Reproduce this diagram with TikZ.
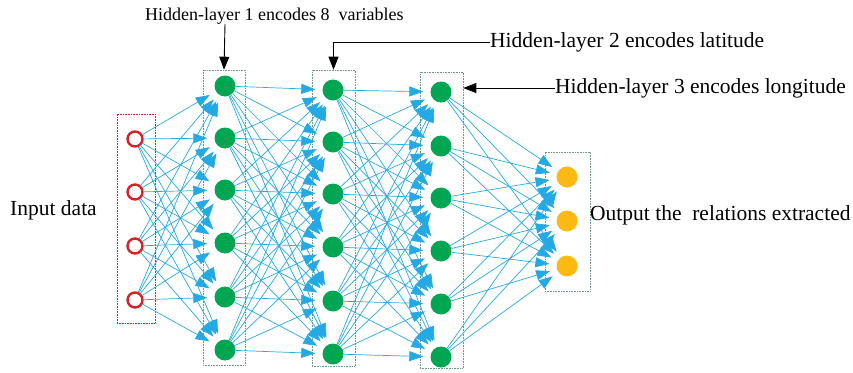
\documentclass[tikz,border=0pt]{standalone}
\usepackage{fontspec}
\setmainfont{Liberation Serif}
\usetikzlibrary{arrows.meta,fit}
\definecolor{linkblue}{RGB}{35,170,228}
\definecolor{nodegreen}{RGB}{0,166,81}
\definecolor{outorange}{RGB}{253,185,19}
\definecolor{inred}{RGB}{215,35,40}
\definecolor{boxgray}{RGB}{110,150,140}
\tikzset{
  unit/.style={circle,fill=nodegreen,inner sep=0pt,minimum size=21pt},
  inunit/.style={circle,draw=inred,line width=2.4pt,inner sep=0pt,minimum size=15pt},
  outunit/.style={circle,fill=outorange,inner sep=0pt,minimum size=21pt},
  link/.style={linkblue,line width=0.7pt,shorten >=7pt,-{Triangle[length=14pt,width=10pt]}},
  layerbox/.style={draw=boxgray,densely dotted,line width=0.6pt,inner sep=0pt},
  pointer/.style={black,line width=0.9pt,-{Triangle[length=13pt,width=10pt]}},
  caption/.style={font=\fontsize{21.5}{25}\selectfont,inner sep=0pt}
}
\begin{document}
\begin{tikzpicture}[x=1pt,y=-1pt]
\useasboundingbox (0,0) rectangle (853,372);

% layer boxes
\node[layerbox,draw=inred,fit={(117,114) (155,323)}] (boxin) {};
\node[layerbox,fit={(203,70) (245,365)}] (boxa) {};
\node[layerbox,fit={(312,70) (355,366)}] (boxb) {};
\node[layerbox,fit={(420,72) (463,368)}] (boxc) {};
\node[layerbox,fit={(545,152) (590,291)}] (boxout) {};

% units
\foreach \y [count=\i] in {139,192,246,300}
  \node[inunit] (in\i) at (135,\y) {};
\foreach \y [count=\i] in {86,138,190,243,297,350}
  \node[unit] (ha\i) at (225,\y) {};
\foreach \y [count=\i] in {90,142,194,247,301,354}
  \node[unit] (hb\i) at (333,\y) {};
\foreach \y [count=\i] in {92,146,198,251,304,357}
  \node[unit] (hc\i) at (441,\y) {};
\foreach \y [count=\i] in {177,221,266}
  \node[outunit] (out\i) at (567,\y) {};

% connections
\foreach \i in {1,...,4}
  \foreach \j in {1,...,6}
    \draw[link] (in\i) -- (ha\j);
\foreach \i in {1,...,6}
  \foreach \j in {1,...,6} {
    \draw[link] (ha\i) -- (hb\j);
    \draw[link] (hb\i) -- (hc\j);
  }
\foreach \i in {1,...,6}
  \foreach \j in {1,...,3}
    \draw[link] (hc\i) -- (out\j);

% captions
\node[caption,font=\fontsize{18}{22}\selectfont,anchor=west] (capa) at (145,16) {Hidden-layer 1 encodes 8~ variables};
\node[caption,anchor=west] (capb) at (490,42) {Hidden-layer 2 encodes latitude};
\node[caption,anchor=west] (capc) at (555,88) {Hidden-layer 3 encodes longitude};
\node[caption,anchor=west] (capin) at (10,210) {Input data};
\node[caption,anchor=west] (capout) at (590,215) {Output the~ relations extracted};

\coordinate (pa) at (225,24);
\draw[pointer] (pa) -- (boxa.north);
\draw[pointer] (capb.west) -| (boxb.north);
\draw[pointer] (capc.west) -- (boxc.east |- capc.west);
\end{tikzpicture}
\end{document}
